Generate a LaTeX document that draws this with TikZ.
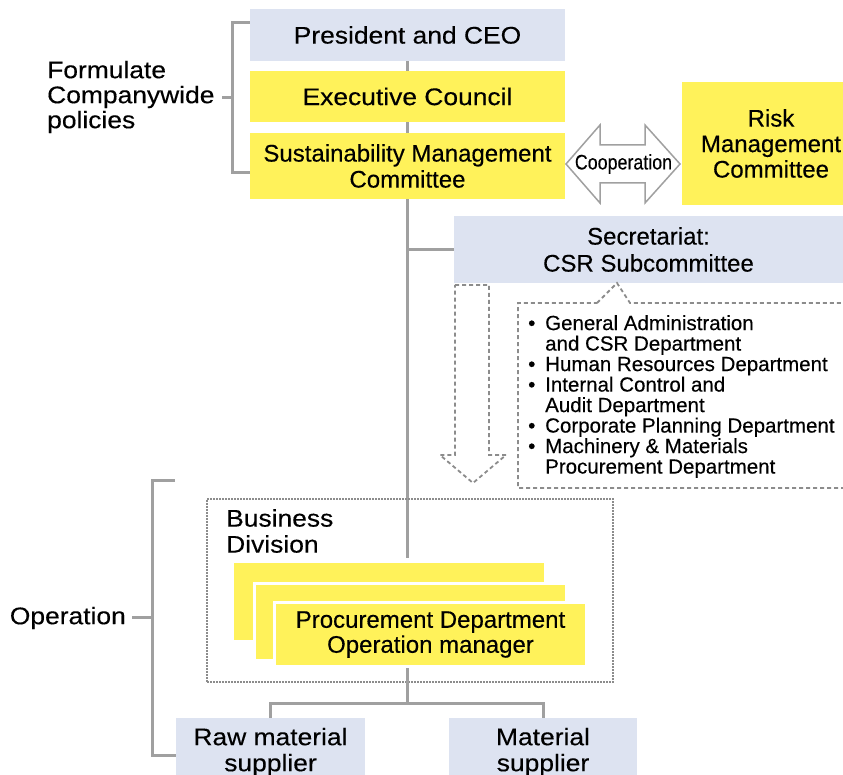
\documentclass[tikz,border=0pt]{standalone}
\usepackage{fontspec}
\setmainfont[FakeBold=0.3]{Liberation Sans}
\newfontfamily\widefont[FakeStretch=1.1,FakeBold=0.3]{Liberation Sans}
\newfontfamily\condfont[FakeStretch=0.85,FakeBold=0.2]{Liberation Sans}
\definecolor{boxblue}{RGB}{221,227,241}
\definecolor{boxyellow}{RGB}{255,242,90}
\definecolor{linegray}{RGB}{160,160,160}
\definecolor{dashgray}{RGB}{140,140,140}
\begin{document}
\begin{tikzpicture}[x=1pt,y=-1pt,
  box/.style={inner sep=0pt, align=center, font=\fontsize{24}{26}\selectfont},
  bluebox/.style={box, fill=boxblue},
  yelbox/.style={box, fill=boxyellow},
  wideb/.style={font=\widefont\fontsize{24}{26}\selectfont},
  conn/.style={draw=linegray, line width=3.5pt},
  brk/.style={draw=linegray, line width=3pt},
  dashline/.style={draw=dashgray, line width=1.8pt, dash pattern=on 4pt off 3pt},
  dotline/.style={draw=dashgray, line width=1.8pt, dash pattern=on 1.6pt off 1.4pt},
  lbl/.style={inner sep=0pt, align=left, font=\widefont\fontsize{24}{25}\selectfont}
]
\useasboundingbox (0,0) rectangle (843,775);
\clip (0,0) rectangle (843,775);

% top boxes
\node[bluebox, wideb, minimum width=315pt, minimum height=52pt] (ceo) at (407.5,35) {President and CEO};
\node[yelbox, wideb, minimum width=315pt, minimum height=51pt] (exec) at (407.5,96.5) {Executive Council};
\node[yelbox, minimum width=315pt, minimum height=66pt] (smc) at (407.5,166) {Sustainability Management\\Committee};
\node[yelbox, minimum width=178pt, minimum height=123pt, font=\fontsize{24}{25.5}\selectfont] (risk) at (771,143.5) {Risk\\Management\\Committee};
\node[bluebox, minimum width=389pt, minimum height=67pt, font=\fontsize{24}{27}\selectfont] (sec) at (648.5,249.5) {Secretariat:\\CSR Subcommittee};

% main vertical line
\coordinate (vend) at (407.5,558);
\draw[conn] (ceo.south) -- (exec.north);
\draw[conn] (exec.south) -- (smc.north);
\draw[conn] (smc.south) -- (vend);
\draw[conn] (smc.south |- sec.west) -- (sec.west);

% formulate bracket
\node[lbl, anchor=west] (fp) at (47,97) {Formulate\\Companywide\\policies};
\coordinate (fbr) at (232,98);
\draw[brk] (ceo.west |- 0,23) -| (232,173) -- (smc.west |- 0,173);
\draw[brk] (222,98) -- (fbr);

% cooperation arrow
\draw[draw=linegray, line width=1.5pt, fill=white]
  (566,164) -- (600,125) -- (600,145) -- (645,145) -- (645,125) -- (680,164)
  -- (645,203) -- (645,183) -- (600,183) -- (600,203) -- cycle;
\node[inner sep=0pt, font=\condfont\fontsize{21}{22}\selectfont] (coop) at (623.5,164) {Cooperation};

% dashed down arrow
\draw[dashline] (455,285) -- (489,285) -- (489,455) -- (506,455) -- (473,483)
  -- (440,455) -- (455,455) -- cycle;

% callout with department list
\draw[dashline] (597,303) -- (617,283) -- (630,303) -- (850,303) -- (850,488)
  -- (518,488) -- (518,303) -- cycle;
\node[anchor=north west, inner sep=0pt, align=left, font=\fontsize{20.5}{20.5}\selectfont] (list) at (528,315)
{\makebox[17pt][l]{•}General Administration\\
 \hspace*{17pt}and CSR Department\\
 \makebox[17pt][l]{•}Human Resources Department\\
 \makebox[17pt][l]{•}Internal Control and\\
 \hspace*{17pt}Audit Department\\
 \makebox[17pt][l]{•}Corporate Planning Department\\
 \makebox[17pt][l]{•}Machinery \& Materials\\
 \hspace*{17pt}Procurement Department};

% business division
\node[dotline, minimum width=406pt, minimum height=183pt, inner sep=0pt] (bd) at (410,590.5) {};
\node[lbl, anchor=north west, font=\widefont\fontsize{24}{26}\selectfont] (bdl) at (226,509) {Business\\Division};

\node[yelbox, minimum width=310pt, minimum height=77pt] (p1) at (389,601.5) {};
\node[yelbox, draw=white, line width=3pt, minimum width=312pt, minimum height=77pt] (p2) at (410,621.5) {};
\node[yelbox, draw=white, line width=3pt, minimum width=312pt, minimum height=64pt, font=\fontsize{24}{25}\selectfont] (p3) at (430.5,634.5) {Procurement Department\\Operation manager};

% suppliers
\node[bluebox, wideb, minimum width=189pt, minimum height=68pt] (raw) at (270.5,752) {Raw material\\supplier};
\node[bluebox, wideb, minimum width=188pt, minimum height=68pt] (mat) at (543,752) {Material\\supplier};
\coordinate (jn) at (407.5,703);
\draw[conn] (vend |- p3.south) -- (jn);
\draw[conn, line width=3pt] (raw.north) |- (jn) -| (mat.north);

% operation bracket
\node[lbl, anchor=east] (op) at (126,618) {Operation};
\coordinate (obr) at (152,617);
\draw[brk] (175,480) -| (152,755) -- (raw.west |- 0,755);
\draw[brk] (132,617) -- (obr);
\end{tikzpicture}
\end{document}
